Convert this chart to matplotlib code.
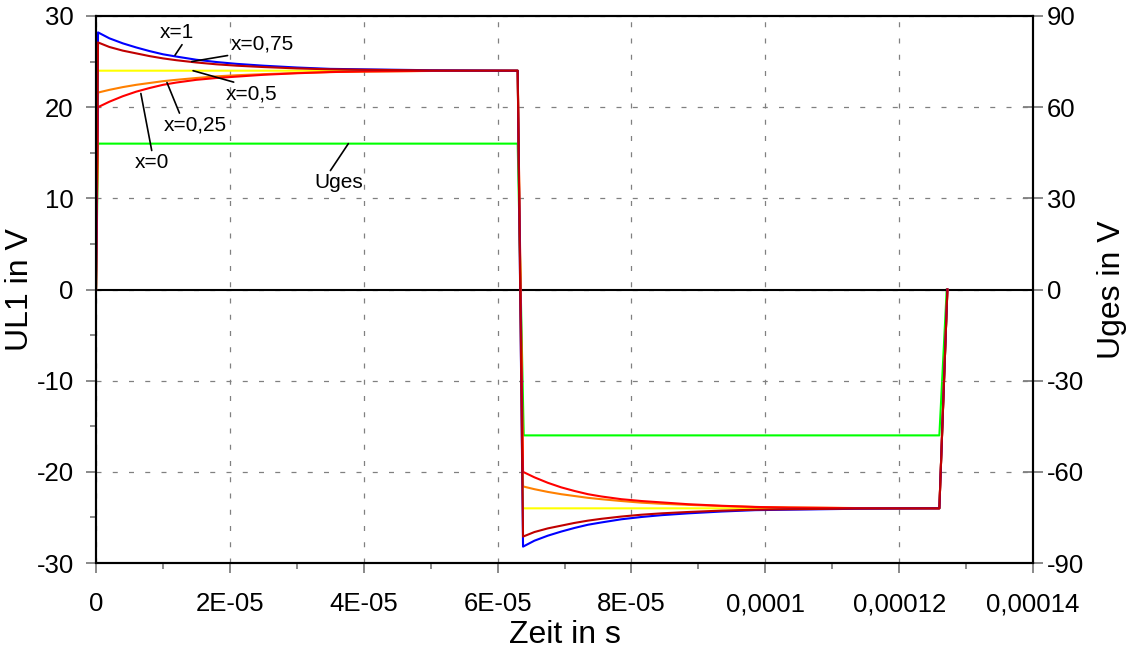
import matplotlib
matplotlib.use('Agg')
from matplotlib import pyplot as plt
from matplotlib.ticker import MultipleLocator
import numpy as np

plt.rcParams['font.family'] = ['Liberation Sans', 'DejaVu Sans']
plt.rcParams['axes.unicode_minus'] = False

# time axis, in microseconds
t_pos = [0, 0.3, 2, 4, 6, 8, 10, 12, 15, 18, 21, 25, 30, 35, 40, 50, 63.0]
t_neg = [63.8, 65.5, 67.5, 69.5, 71.5, 73.5, 75.5, 78.5, 81.5, 84.5, 88.5, 93.5, 98.5, 103.5, 113.5, 126.0, 127.2]

# UL1 for the different x values (first half, positive pulse)
ul1_x1_pos = [0, 28.2, 27.55, 27.0, 26.55, 26.15, 25.8, 25.55, 25.2, 24.95, 24.75, 24.55, 24.35, 24.2, 24.15, 24.05, 24.0]
ul1_x075_pos = [0, 27.1, 26.6, 26.2, 25.9, 25.6, 25.35, 25.15, 24.9, 24.7, 24.55, 24.4, 24.25, 24.15, 24.1, 24.03, 24.0]
ul1_x025_pos = [0, 21.6, 21.9, 22.2, 22.45, 22.65, 22.85, 23.0, 23.2, 23.38, 23.5, 23.62, 23.75, 23.85, 23.9, 23.97, 24.0]
ul1_x0_pos = [0, 20.0, 20.6, 21.2, 21.7, 22.1, 22.45, 22.7, 23.0, 23.2, 23.35, 23.55, 23.72, 23.85, 23.92, 23.98, 24.0]

# second half (negative pulse)
ul1_x1_neg = [-28.2, -27.55, -27.0, -26.55, -26.15, -25.8, -25.55, -25.2, -24.95, -24.75, -24.55, -24.35, -24.2, -24.15, -24.05, -24.0, 0]
ul1_x075_neg = [-27.1, -26.6, -26.2, -25.9, -25.6, -25.35, -25.15, -24.9, -24.7, -24.55, -24.4, -24.25, -24.15, -24.1, -24.03, -24.0, 0]
ul1_x025_neg = [-21.6, -21.9, -22.2, -22.45, -22.65, -22.85, -23.0, -23.2, -23.38, -23.5, -23.62, -23.75, -23.85, -23.9, -23.97, -24.0, 0]
ul1_x0_neg = [-20.0, -20.6, -21.2, -21.7, -22.1, -22.45, -22.7, -23.0, -23.2, -23.35, -23.55, -23.72, -23.85, -23.92, -23.98, -24.0, 0]

# x=0,5 is flat, same for Uges (right axis)
t_x05 = [0, 0.3, 63.0, 63.8, 126.0, 127.2]
ul1_x05 = [0, 24, 24, -24, -24, 0]
t_uges = [0, 0.3, 63.0, 63.9, 126.0, 127.1]
uges = [0, 48, 48, -48, -48, 0]

xtick_vals = [0, 2e-5, 4e-5, 6e-5, 8e-5, 1e-4, 1.2e-4, 1.4e-4]
xtick_labels = ['0', '2E-05', '4E-05', '6E-05', '8E-05', '0,0001', '0,00012', '0,00014']

labels = ['x=1', 'x=0,75', 'x=0,5', 'x=0,25', 'x=0', 'Uges']
label_point = [(11.8, 25.7), (14.3, 25.0), (14.5, 24.0), (10.6, 22.7), (6.7, 21.5), (37.7, 16.0)]
label_pos = [(12.1, 28.2), (24.8, 26.9), (23.2, 21.4), (14.9, 18.0), (8.4, 13.9), (36.2, 11.7)]
label_rel = [(0.7, 0), (0.3, 0.1), (0.35, 1), (0.26, 1), (0.5, 1), (0.3, 1)]

us = 1e-6
t_all = np.array(t_pos + t_neg) * us

fig = plt.figure(figsize=(11.31, 6.5), dpi=100)
ax = fig.add_axes([0.0849, 0.1338, 0.8285, 0.8416])
ax2 = ax.twinx()

# Uges goes on the right axis, but should sit under the UL1 curves
ax2.plot(np.array(t_uges) * us, uges, color='#00FF00', lw=1.5)
ax.set_zorder(ax2.get_zorder() + 1)
ax.patch.set_visible(False)

ax.axhline(0, color='black', lw=1.5, zorder=1.5)
ax.plot(np.array(t_x05) * us, ul1_x05, color='#FFFF00', lw=1.5)
ax.plot(t_all, ul1_x025_pos + ul1_x025_neg, color='#FF8000', lw=1.5)
ax.plot(t_all, ul1_x0_pos + ul1_x0_neg, color='#FF0000', lw=1.5)
ax.plot(t_all, ul1_x1_pos + ul1_x1_neg, color='#0000FF', lw=1.5)
ax.plot(t_all, ul1_x075_pos + ul1_x075_neg, color='#C00000', lw=1.5)

for text, pt, pos, rel in zip(labels, label_point, label_pos, label_rel):
    ax.annotate(text, xy=(pt[0] * us, pt[1]), xytext=(pos[0] * us, pos[1]),
                ha='center', va='center', fontsize=15,
                arrowprops=dict(arrowstyle='-', color='black', lw=1.2,
                                relpos=rel, shrinkA=0, shrinkB=0))

ax.set_xlim(0, 1.4e-4)
ax.set_ylim(-30, 30)
ax2.set_ylim(-90, 90)
ax.set_xticks(xtick_vals)
ax.set_xticklabels(xtick_labels)
ax.xaxis.set_minor_locator(MultipleLocator(1e-5))
ax.set_yticks(range(-30, 31, 10))
ax.yaxis.set_minor_locator(MultipleLocator(5))
ax2.set_yticks(range(-90, 91, 30))

ax.grid(True, which='major', color='#808080', lw=0.9, linestyle=(0, (4, 9)))
ax.set_axisbelow(True)

ax.tick_params(which='major', direction='out', length=7, color='#808080', width=1.3,
               labelsize=18.5)
ax.tick_params(axis='x', which='major', pad=14)
ax.tick_params(axis='y', which='major', pad=9)
ax.tick_params(which='minor', direction='out', length=4.5, color='#808080', width=1.3)
ax2.tick_params(which='major', direction='inout', length=14, color='#808080', width=1.3,
                labelsize=18.5, pad=3)

for a in (ax, ax2):
    for s in a.spines.values():
        s.set_linewidth(1.5)
        s.set_color('black')

ax.set_xlabel('Zeit in s', fontsize=23, labelpad=3)
ax.set_ylabel('UL1 in V', fontsize=23, labelpad=1)
ax2.set_ylabel('Uges in V', fontsize=23, labelpad=9)

fig.savefig('out.png', dpi=100)
